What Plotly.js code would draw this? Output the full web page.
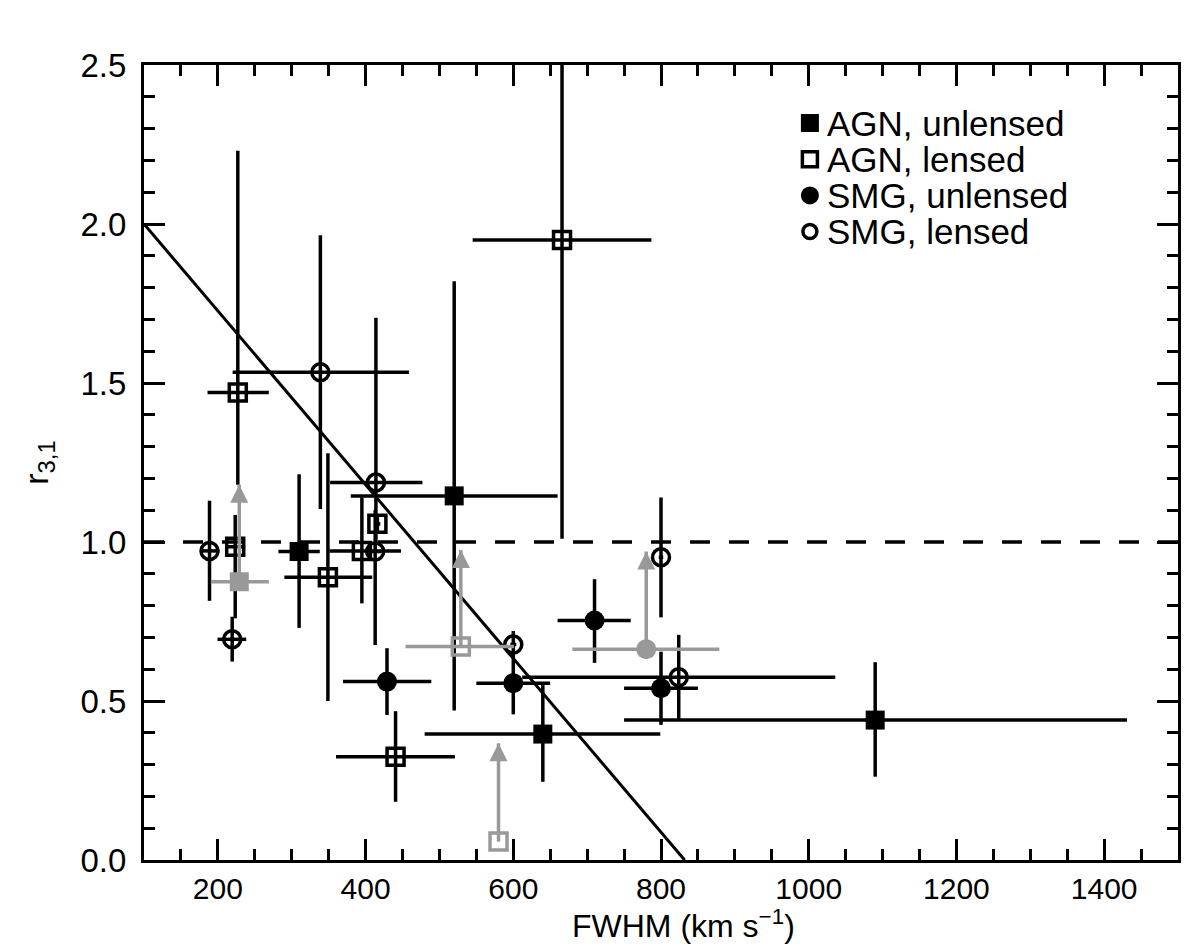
<!DOCTYPE html>
<html>
<head>
<meta charset="utf-8">
<script src="https://cdn.plot.ly/plotly-3.0.1.min.js"></script>
<style>html,body{margin:0;padding:0;background:#fff;}#chart{width:1199px;height:952px;}</style>
</head>
<body>
<div id="chart"></div>
<script>
// ---- Data ----
// AGN, unlensed (filled squares)
const agnU_x   = [310, 520, 640, 1090];
const agnU_y   = [0.97, 1.145, 0.396, 0.44];
const agnU_xlo = [282, 380, 480, 750];
const agnU_xhi = [338, 660, 799, 1431];
const agnU_ylo = [0.73, 0.47, 0.246, 0.262];
const agnU_yhi = [1.213, 1.82, 0.55, 0.622];

// AGN, lensed (open squares)
const agnL_x   = [666, 227, 223.5, 395, 416, 349, 440.6];
const agnL_y   = [1.95, 1.47, 0.985, 0.972, 1.057, 0.889, 0.325];
const agnL_xlo = [545, 186, 211, 351, 412, 290, 360];
const agnL_xhi = [787, 269, 237, 448, 420, 409, 521];
const agnL_ylo = [1.01, 1.18, 0.76, 0.807, 1.03, 0.50, 0.183];
const agnL_yhi = [2.8, 2.23, 1.085, 1.14, 1.085, 1.279, 0.468];

// SMG, unlensed (filled circles)
const smgU_x   = [429, 600, 710, 800];
const smgU_y   = [0.561, 0.556, 0.753, 0.54];
const smgU_xlo = [369.5, 550, 660, 750];
const smgU_xhi = [489, 650, 759, 850];
const smgU_ylo = [0.456, 0.458, 0.62, 0.425];
const smgU_yhi = [0.666, 0.65, 0.883, 0.655];

// SMG, lensed (open circles)
const smgL_x   = [188.7, 219.4, 338.8, 414, 413, 600, 800, 824];
const smgL_y   = [0.972, 0.694, 1.534, 1.187, 0.97, 0.678, 0.952, 0.575];
const smgL_xlo = [176, 199.5, 220, 352, 405, 596, 797, 612];
const smgL_xhi = [202, 238.4, 458.7, 477, 421, 604, 803, 1036];
const smgL_ylo = [0.815, 0.624, 1.104, 1.0, 0.676, 0.64, 0.763, 0.44];
const smgL_yhi = [1.13, 0.765, 1.965, 1.705, 1.10, 0.72, 1.14, 0.708];

// Lower limits (grey, with upward arrows)
const limAU_x = [229];      const limAU_y = [0.875];        const limAU_xlo = [190.5];    const limAU_xhi = [269];      const limAU_top = [1.18];
const limAL_x = [529, 580]; const limAL_y = [0.671, 0.058]; const limAL_xlo = [454, 580]; const limAL_xhi = [601, 580]; const limAL_top = [0.975, 0.367];
const limSU_x = [780];      const limSU_y = [0.663];        const limSU_xlo = [680];      const limSU_xhi = [879];      const limSU_top = [0.97];

// Fit line and reference line
const fit_x = [100, 832];
const fit_y = [2.0, 0.0];
const ref_x = [100, 1500];
const ref_y = [1.0, 1.0];

const legendNames = ['AGN, unlensed', 'AGN, lensed', 'SMG, unlensed', 'SMG, lensed'];
const legendSymbols = ['square', 'square-open', 'circle', 'circle-open'];
const xTitle = 'FWHM (km s<sup>\u22121</sup>)';
const yTitle = 'r<sub>3,1</sub>';

// ---- Build traces ----
const GREY = '#999999';
const FONT = 'Liberation Sans, Arial, Helvetica, sans-serif';
function diff(a, b) { return a.map((v, i) => v - b[i]); }
function errTrace(xs, ys, xlo, xhi, ylo, yhi, symbol, color, size, lineW) {
  return {
    type: 'scatter', mode: 'markers', showlegend: false, hoverinfo: 'skip', opacity: 1,
    x: xs, y: ys,
    error_x: { type: 'data', symmetric: false, array: diff(xhi, xs), arrayminus: diff(xs, xlo), color: color, thickness: 3.5, width: 0 },
    error_y: { type: 'data', symmetric: false, array: diff(yhi, ys), arrayminus: diff(ys, ylo), color: color, thickness: 3.5, width: 0 },
    marker: { symbol: symbol, size: size, color: color, opacity: 1, line: { color: color, width: lineW } },
    cliponaxis: true
  };
}
function arrowHeads(xs, tops) {
  return { type: 'scatter', mode: 'markers', showlegend: false, hoverinfo: 'skip', x: xs, y: tops,
    marker: { symbol: 'arrow-up', size: 18, color: GREY, opacity: 1, line: { width: 0 } } };
}

const traces = [
  { type: 'scatter', mode: 'lines', x: ref_x, y: ref_y, showlegend: false, hoverinfo: 'skip',
    line: { color: '#000', width: 3.5, dash: '20px,19px' } },
  { type: 'scatter', mode: 'lines', x: fit_x, y: fit_y, showlegend: false, hoverinfo: 'skip',
    line: { color: '#000', width: 3 } },
  errTrace(agnU_x, agnU_y, agnU_xlo, agnU_xhi, agnU_ylo, agnU_yhi, 'square', '#000', 19, 0),
  errTrace(agnL_x, agnL_y, agnL_xlo, agnL_xhi, agnL_ylo, agnL_yhi, 'square-open', '#000', 17, 3.5),
  errTrace(smgU_x, smgU_y, smgU_xlo, smgU_xhi, smgU_ylo, smgU_yhi, 'circle', '#000', 20, 0),
  errTrace(smgL_x, smgL_y, smgL_xlo, smgL_xhi, smgL_ylo, smgL_yhi, 'circle-open', '#000', 17, 3.5),
  errTrace(limAU_x, limAU_y, limAU_xlo, limAU_xhi, limAU_y, limAU_top, 'square', GREY, 19, 0),
  errTrace(limAL_x, limAL_y, limAL_xlo, limAL_xhi, limAL_y, limAL_top, 'square-open', GREY, 17, 3.5),
  errTrace(limSU_x, limSU_y, limSU_xlo, limSU_xhi, limSU_y, limSU_top, 'circle', GREY, 20, 0),
  arrowHeads(limAU_x, limAU_top),
  arrowHeads(limAL_x, limAL_top),
  arrowHeads(limSU_x, limSU_top)
];

// ---- Manual legend (tight rows as in the reference) ----
const LEG_X = 0.644, LEG_TX = 0.659, LEG_Y0 = 0.927, LEG_DY = 0.0455;
const legY = legendNames.map((_, i) => LEG_Y0 - i * LEG_DY);
traces.push({
  type: 'scatter', mode: 'markers', xaxis: 'x2', yaxis: 'y2', showlegend: false, hoverinfo: 'skip', opacity: 1,
  x: legendNames.map(() => LEG_X), y: legY,
  marker: { symbol: legendSymbols, size: [18, 15, 18, 14], color: 'rgb(0,0,0)', opacity: 1,
            line: { color: 'rgb(0,0,0)', width: [0, 3.5, 0, 3.5] } }
});
const annotations = legendNames.map((t, i) => ({
  x: LEG_TX, y: legY[i], xref: 'paper', yref: 'paper', xanchor: 'left', yanchor: 'middle',
  text: t, showarrow: false, font: { family: FONT, size: 35, color: '#000' }
}));
annotations.push({
  x: 0.522, y: -0.08, xref: 'paper', yref: 'paper', xanchor: 'center', yanchor: 'middle',
  text: xTitle, showarrow: false, font: { family: FONT, size: 32, color: '#000' }
});

const axisCommon = {
  showline: true, linewidth: 3, linecolor: '#000', mirror: 'allticks',
  ticks: 'inside', ticklen: 21, tickwidth: 3, tickcolor: '#000',
  showgrid: false, zeroline: false
};

const layout = {
  width: 1199, height: 952,
  margin: { l: 144, r: 21, t: 65, b: 92 },
  paper_bgcolor: '#fff', plot_bgcolor: '#fff',
  font: { family: FONT, color: '#000' },
  showlegend: false,
  xaxis: Object.assign({}, axisCommon, {
    range: [100, 1500], tick0: 0, dtick: 200,
    tickfont: { family: FONT, size: 30, color: '#000' }, ticklabelstandoff: 0,
    minor: { dtick: 50, ticks: 'inside', ticklen: 11, tickwidth: 3, tickcolor: '#000', showgrid: false }
  }),
  yaxis: Object.assign({}, axisCommon, {
    range: [0, 2.5], tick0: 0, dtick: 0.5, tickformat: '.1f',
    tickfont: { family: FONT, size: 33, color: '#000' }, ticklabelstandoff: 8,
    minor: { dtick: 0.1, ticks: 'inside', ticklen: 11, tickwidth: 3, tickcolor: '#000', showgrid: false },
    title: { text: yTitle, font: { family: FONT, size: 34, color: '#000' }, standoff: 22 }
  }),
  xaxis2: { overlaying: 'x', range: [0, 1], visible: false, fixedrange: true },
  yaxis2: { overlaying: 'y', range: [0, 1], visible: false, fixedrange: true },
  annotations: annotations
};

Plotly.newPlot('chart', traces, layout, { staticPlot: true, displayModeBar: false });
</script>
</body>
</html>
